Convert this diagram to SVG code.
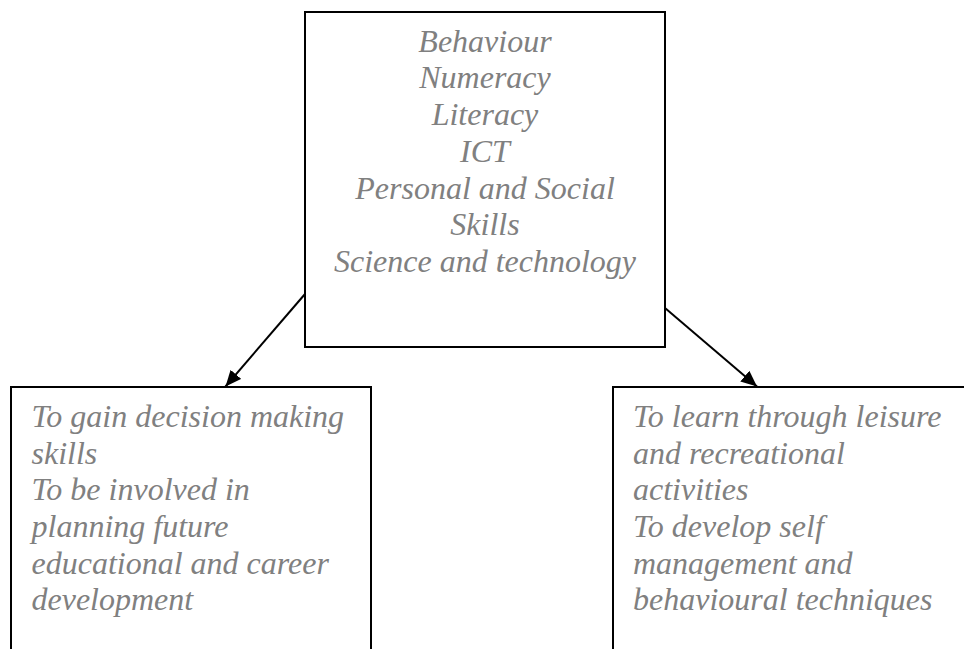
<svg xmlns="http://www.w3.org/2000/svg" width="964" height="649" viewBox="0 0 964 649">
<defs>
<marker id="arr" viewBox="0 0 16 14" refX="16" refY="7" markerWidth="16" markerHeight="14" markerUnits="userSpaceOnUse" orient="auto"><path d="M0,0 L16,7 L0,14 z" fill="#000"/></marker>
<style>
.box{fill:#fff;stroke:#000;stroke-width:2}
.t{font-family:"Liberation Serif","Times New Roman",serif;font-style:italic;font-size:32px;fill:#808080}
.c{text-anchor:middle}
.conn{stroke:#000;stroke-width:2;fill:none}
</style>
</defs>
<rect width="964" height="649" fill="#fff"/>
<g id="top">
<rect class="box" x="305" y="12" width="360" height="335"/>
<text class="t c" x="485" y="51.7">Behaviour</text>
<text class="t c" x="485" y="88.3">Numeracy</text>
<text class="t c" x="485" y="125">Literacy</text>
<text class="t c" x="485" y="161.7">ICT</text>
<text class="t c" x="485" y="198.5">Personal and Social</text>
<text class="t c" x="485" y="235">Skills</text>
<text class="t c" x="485" y="271.7">Science and technology</text>
</g>
<g id="left">
<rect class="box" x="11" y="387" width="360" height="280"/>
<text class="t" x="31.5" y="426.7">To gain decision making</text>
<text class="t" x="31.5" y="463.5">skills</text>
<text class="t" x="31.5" y="500">To be involved in</text>
<text class="t" x="31.5" y="536.7">planning future</text>
<text class="t" x="31.5" y="573.5">educational and career</text>
<text class="t" x="31.5" y="610">development</text>
</g>
<g id="right">
<rect class="box" x="613" y="387" width="380" height="280"/>
<text class="t" x="633" y="426.7">To learn through leisure</text>
<text class="t" x="633" y="463.5">and recreational</text>
<text class="t" x="633" y="500">activities</text>
<text class="t" x="633" y="536.7">To develop self</text>
<text class="t" x="633" y="573.5">management and</text>
<text class="t" x="633" y="610">behavioural techniques</text>
</g>
<g id="connectors">
<line class="conn" x1="305" y1="294" x2="225.5" y2="386.5" marker-end="url(#arr)"/>
<line class="conn" x1="665" y1="308" x2="757" y2="386.5" marker-end="url(#arr)"/>
</g>
</svg>
